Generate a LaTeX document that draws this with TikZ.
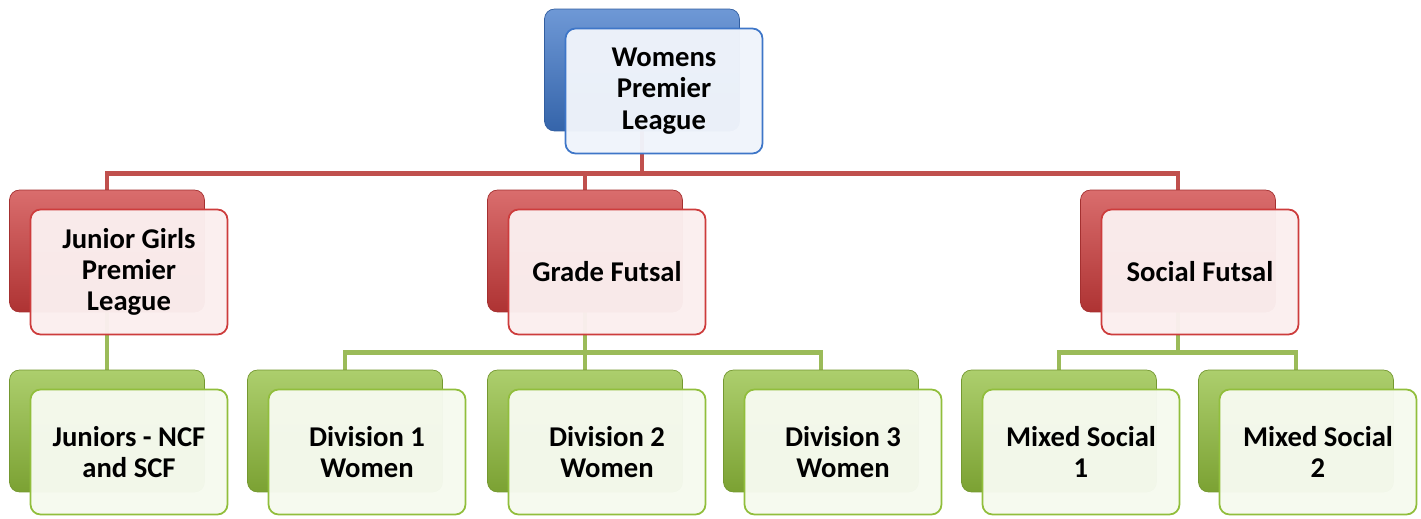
\documentclass[tikz,border=0pt]{standalone}
\usepackage{fontspec}
\setmainfont{Carlito}
\usetikzlibrary{backgrounds}
\definecolor{bluebox}{RGB}{62,118,200}
\definecolor{redbox}{RGB}{205,60,60}
\definecolor{greenbox}{RGB}{145,190,60}
\definecolor{redwire}{RGB}{192,80,77}
\definecolor{greenwire}{RGB}{155,187,89}
\tikzset{
  backbox/.style={rectangle,rounded corners=0.2cm,minimum width=3.9cm,minimum height=2.44cm,
    draw=#1!80!black,top color=#1!75,middle color=#1,bottom color=#1!85!black},
  frontbox/.style={rectangle,rounded corners=0.2cm,minimum width=3.94cm,minimum height=2.5cm,
    draw=#1,line width=1pt,fill=#1!8,fill opacity=0.97,text opacity=1,align=center,
    font=\bfseries\fontsize{16.3}{17.8}\selectfont},
  redline/.style={redwire,line width=2.8pt},
  greenline/.style={greenwire,line width=2.8pt}
}
\begin{document}
\begin{tikzpicture}[x=0.02cm,y=-0.02cm]
\useasboundingbox (0,0) rectangle (1421,518);
% top
\node[backbox=bluebox] (wpl) at (642,70) {};
\node[frontbox=bluebox] (wpl-f) at ([xshift=0.44cm,yshift=-0.42cm]wpl.center) {Womens\\Premier\\League};
% second row
\node[backbox=redbox] (jgpl) at (107,251) {};
\node[frontbox=redbox] (jgpl-f) at ([xshift=0.44cm,yshift=-0.42cm]jgpl.center) {Junior Girls\\Premier\\League};
\node[backbox=redbox] (grade) at (585,251) {};
\node[frontbox=redbox] (grade-f) at ([xshift=0.44cm,yshift=-0.42cm]grade.center) {Grade Futsal};
\node[backbox=redbox] (social) at (1178,251) {};
\node[frontbox=redbox] (social-f) at ([xshift=0.44cm,yshift=-0.42cm]social.center) {Social Futsal};
% third row
\node[backbox=greenbox] (jun) at (107,431) {};
\node[frontbox=greenbox] (jun-f) at ([xshift=0.44cm,yshift=-0.42cm]jun.center) {Juniors - NCF\\and SCF};
\node[backbox=greenbox] (div1) at (345,431) {};
\node[frontbox=greenbox] (div1-f) at ([xshift=0.44cm,yshift=-0.42cm]div1.center) {Division 1\\Women};
\node[backbox=greenbox] (div2) at (585,431) {};
\node[frontbox=greenbox] (div2-f) at ([xshift=0.44cm,yshift=-0.42cm]div2.center) {Division 2\\Women};
\node[backbox=greenbox] (div3) at (821,431) {};
\node[frontbox=greenbox] (div3-f) at ([xshift=0.44cm,yshift=-0.42cm]div3.center) {Division 3\\Women};
\node[backbox=greenbox] (mix1) at (1059,431) {};
\node[frontbox=greenbox] (mix1-f) at ([xshift=0.44cm,yshift=-0.42cm]mix1.center) {Mixed Social\\1};
\node[backbox=greenbox] (mix2) at (1296,431) {};
\node[frontbox=greenbox] (mix2-f) at ([xshift=0.44cm,yshift=-0.42cm]mix2.center) {Mixed Social\\2};
% connectors
\begin{scope}[on background layer]
\draw[redline] (wpl.south) -- ++(0,42) -| (jgpl.north);
\draw[redline] (wpl.south) -- ++(0,42) -| (grade.north);
\draw[redline] (wpl.south) -- ++(0,42) -| (social.north);
\draw[greenline] (jgpl.south) -- (jun.north);
\draw[greenline] (grade.south) -- ++(0,40) -| (div1.north);
\draw[greenline] (grade.south) -- ++(0,40) -| (div2.north);
\draw[greenline] (grade.south) -- ++(0,40) -| (div3.north);
\draw[greenline] (social.south) -- ++(0,40) -| (mix1.north);
\draw[greenline] (social.south) -- ++(0,40) -| (mix2.north);
\end{scope}
\end{tikzpicture}
\end{document}
